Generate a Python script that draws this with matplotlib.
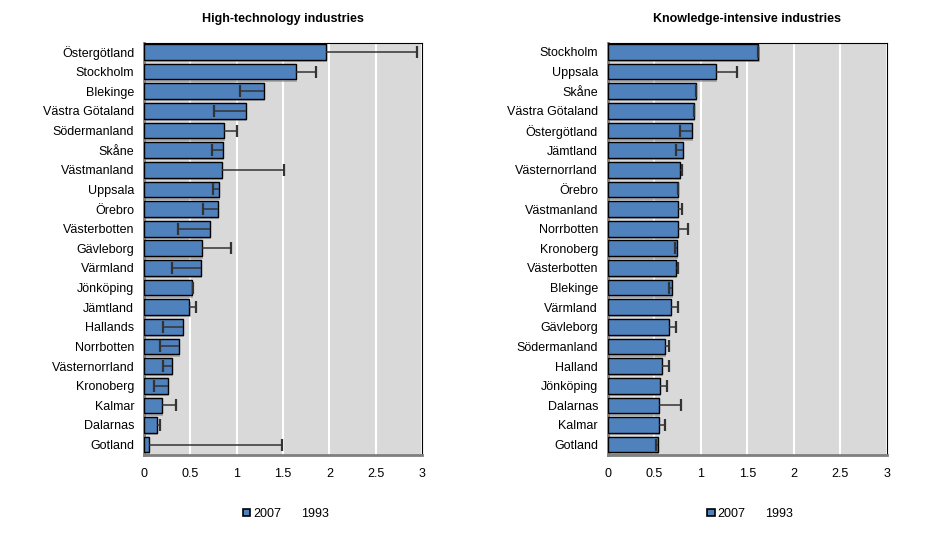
import matplotlib
matplotlib.use("Agg")
import matplotlib.pyplot as plt
from matplotlib.patches import Patch
from matplotlib.lines import Line2D

plt.rcParams['font.family'] = ['Liberation Sans', 'DejaVu Sans']

# High-technology industries
ht_regions = ["Östergötland", "Stockholm", "Blekinge", "Västra Götaland", "Södermanland",
              "Skåne", "Västmanland", "Uppsala", "Örebro", "Västerbotten", "Gävleborg",
              "Värmland", "Jönköping", "Jämtland", "Hallands", "Norrbotten",
              "Västernorrland", "Kronoberg", "Kalmar", "Dalarnas", "Gotland"]
ht_2007 = [1.96, 1.64, 1.29, 1.10, 0.86, 0.85, 0.84, 0.81, 0.80, 0.71, 0.63,
           0.61, 0.52, 0.49, 0.42, 0.38, 0.30, 0.26, 0.19, 0.14, 0.05]
ht_1993 = [2.95, 1.86, 1.04, 0.76, 1.00, 0.73, 1.51, 0.75, 0.64, 0.37, 0.94,
           0.30, 0.53, 0.56, 0.20, 0.17, 0.20, 0.11, 0.35, 0.17, 1.49]

# Knowledge-intensive industries
ki_regions = ["Stockholm", "Uppsala", "Skåne", "Västra Götaland", "Östergötland",
              "Jämtland", "Västernorrland", "Örebro", "Västmanland", "Norrbotten",
              "Kronoberg", "Västerbotten", "Blekinge", "Värmland", "Gävleborg",
              "Södermanland", "Halland", "Jönköping", "Dalarnas", "Kalmar", "Gotland"]
ki_2007 = [1.62, 1.16, 0.95, 0.93, 0.905, 0.81, 0.78, 0.755, 0.755, 0.755, 0.74,
           0.73, 0.69, 0.68, 0.66, 0.61, 0.585, 0.56, 0.55, 0.55, 0.54]
ki_1993 = [1.62, 1.39, 0.945, 0.93, 0.78, 0.73, 0.795, 0.76, 0.795, 0.86, 0.72,
           0.76, 0.66, 0.75, 0.73, 0.655, 0.655, 0.64, 0.79, 0.62, 0.515]

ticks = [0, 0.5, 1, 1.5, 2, 2.5, 3]
tick_labels = ["0", "0.5", "1", "1.5", "2", "2.5", "3"]

fig = plt.figure(figsize=(9.38, 5.38), dpi=100)
ax1 = fig.add_axes([0.1535, 0.1535, 0.2964, 0.767])
ax2 = fig.add_axes([0.648, 0.1535, 0.2974, 0.767])


def draw(ax, title, regions, v2007, v1993):
    y = list(range(len(regions)))
    ax.set_facecolor("#D9D9D9")
    ax.set_axisbelow(True)
    ax.grid(axis="x", color="white", linewidth=1.5)
    # soft shadow behind the bars
    ax.barh([i + 0.12 for i in y], v2007, left=0.012, height=0.8, color="#8C8C8C",
            alpha=0.6, zorder=2)
    ax.barh(y, v2007, height=0.8, color="#4F81BD", edgecolor="black",
            linewidth=1.0, zorder=3)
    ax.hlines(y, v2007, v1993, color="#333333", linewidth=1.1, zorder=4)
    ax.plot(v1993, y, linestyle="none", marker="|", markersize=8,
            markeredgewidth=1.6, color="#333333", zorder=4)
    ax.set_xlim(0, 3)
    ax.set_ylim(len(regions) - 0.45, -0.47)
    ax.set_yticks(y)
    ax.set_yticklabels(regions, fontsize=9)
    ax.set_xticks(ticks)
    ax.set_xticklabels(tick_labels, fontsize=9)
    ax.tick_params(length=0, pad=7)
    ax.tick_params(axis="x", pad=9)
    for s in ["top", "right"]:
        ax.spines[s].set_color("black")
        ax.spines[s].set_linewidth(0.8)
    for s in ["left", "bottom"]:
        ax.spines[s].set_color("#7F7F7F")
        ax.spines[s].set_linewidth(2.0)
    ax.set_title(title, fontsize=9, fontweight="bold", pad=15)
    handles = [Patch(facecolor="#4F81BD", edgecolor="black", linewidth=1.2),
               Line2D([], [], linestyle="none")]
    ax.legend(handles, ["2007", "1993"], loc="upper center",
              bbox_to_anchor=(0.51, -0.1), ncol=2, frameon=False, fontsize=9,
              handlelength=0.6, handleheight=0.6, handletextpad=0.2,
              columnspacing=0.8)


draw(ax1, "High-technology industries", ht_regions, ht_2007, ht_1993)
draw(ax2, "Knowledge-intensive industries", ki_regions, ki_2007, ki_1993)

fig.savefig("out.png", dpi=100)
